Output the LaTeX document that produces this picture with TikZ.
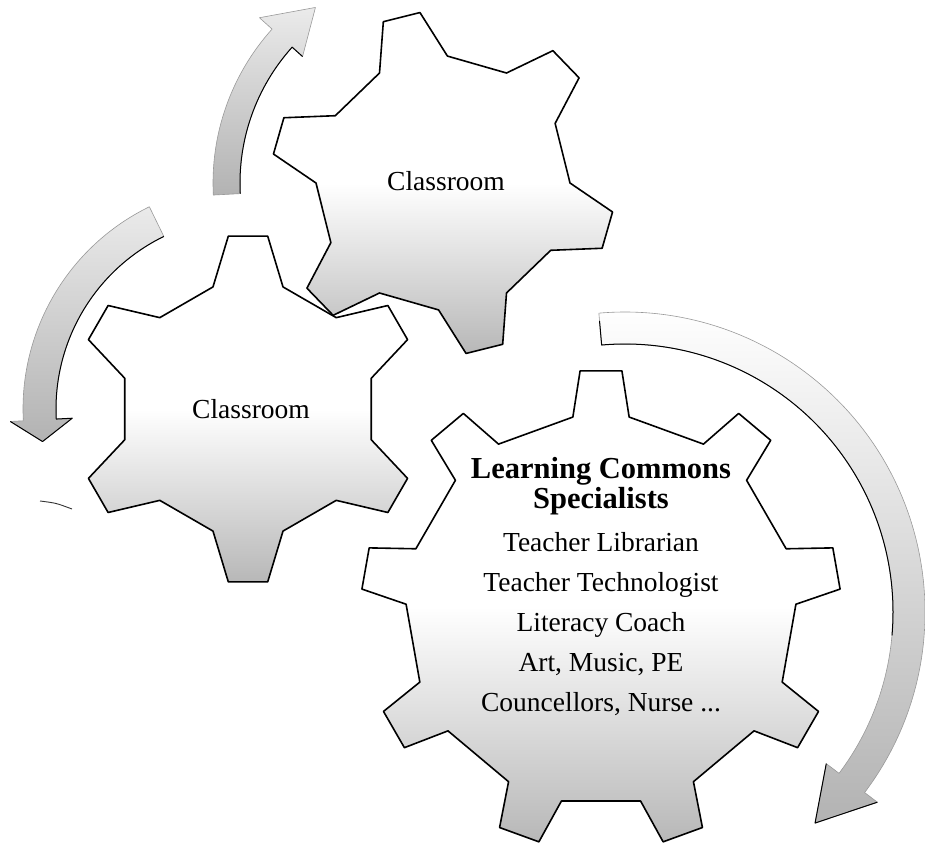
\documentclass[tikz,border=0pt]{standalone}
\usepackage{fontspec}
\setmainfont{Liberation Serif}

\tikzset{
  gear/.style={draw=black, line width=1.6pt, line join=round,
    top color=white, bottom color=black!28, middle color=white},
  flow/.style={draw=black!40, line width=0.6pt, line join=round,
    top color=black!8, bottom color=black!30},
  flowedge/.style={draw=black, line width=1pt, line join=round},
  gearlabel/.style={font=\fontsize{27.5}{30}\selectfont, inner sep=0pt, anchor=base},
  boldlabel/.style={font=\fontsize{30.5}{32}\selectfont\bfseries, inner sep=0pt, anchor=base},
}

% teeth, outer r, inner r, first tooth angle, tip half-angle, base half-angle
\newcommand{\gearpath}[6]{%
  ({#4-#6}:#3)
  \foreach \k in {1,...,#1}{
    -- ({#4+(\k-1)*360/#1-#6}:#3) -- ({#4+(\k-1)*360/#1-#5}:#2)
    -- ({#4+(\k-1)*360/#1+#5}:#2) -- ({#4+(\k-1)*360/#1+#6}:#3)
  } -- cycle}

\begin{document}
\begin{tikzpicture}[x=1pt,y=-1pt]
\useasboundingbox (0,0) rectangle (925,848);

% turning arrows
\path[flow, shift={(443,183)}] (177:203) arc[start angle=177, end angle=222, radius=203]
  -- (222:189) -- (234:217) -- (222:247) -- (222:230)
  arc[start angle=222, end angle=177, radius=230] -- cycle;
\draw[flowedge, shift={(443,183)}] (177:203) arc[start angle=177, end angle=222, radius=203]
  -- (222:189);

\path[flow, shift={(248,409)}] (-116:192) arc[start angle=-116, end angle=-183, radius=192]
  -- (-183:176) -- (-189:208) -- (-183:238) -- (-183:225)
  arc[start angle=-183, end angle=-116, radius=225] -- cycle;
\draw[flowedge, shift={(248,409)}] (-116:192) arc[start angle=-116, end angle=-183, radius=192]
  -- (-183:176) -- (-189:208) -- (-183:238);

\path[flow, top color=white, shift={(625,612)}] (-95:268) arc[start angle=-95, end angle=37, radius=268]
  -- (37:252) -- (48:284) -- (37:316) -- (37:300)
  arc[start angle=37, end angle=-95, radius=300] -- cycle;
\draw[flowedge, shift={(625,612)}] (-95:292) -- (-95:268) arc[start angle=-95, end angle=5, radius=268];
\draw[flowedge, shift={(625,612)}] (37:252) -- (48:284) -- (37:316);

% stray stroke on the left
\draw[black!80, line width=0.9pt] (40,501) .. controls (56,503) .. (72,509);

% gears
\draw[gear, shift={(443,183)}] \gearpath{6}{172}{127}{-104}{6.3}{16};
\draw[gear, shift={(248,409)}] \gearpath{6}{174}{127}{-90}{6.5}{16};
\draw[gear, shift={(601,610)}] \gearpath{9}{240}{195}{-90}{5}{8.3};

% labels
\node[gearlabel] (topclass) at (446,190) {Classroom};
\node[gearlabel] (leftclass) at (251,418) {Classroom};

\node[boldlabel] (lc) at (601,478) {Learning Commons};
\node[boldlabel] (spec) at (601,508) {Specialists};
\node[gearlabel] (lib) at (601,551) {Teacher Librarian};
\node[gearlabel] (tech) at (601,591) {Teacher Technologist};
\node[gearlabel] (lit) at (601,631) {Literacy Coach};
\node[gearlabel] (art) at (601,671) {Art, Music, PE};
\node[gearlabel] (coun) at (601,711) {Councellors, Nurse ...};
\end{tikzpicture}
\end{document}
